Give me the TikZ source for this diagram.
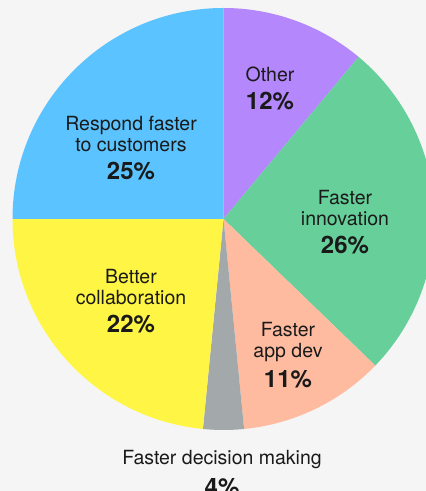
\documentclass[tikz,border=0pt]{standalone}
\usepackage{fontspec}
\setmainfont{TeX Gyre Heros}
\usepackage{tikz}
\usetikzlibrary{positioning}
\definecolor{bgc}{HTML}{F5F5F5}
\definecolor{otherc}{HTML}{B487FC}
\definecolor{innovc}{HTML}{66CF9A}
\definecolor{appc}{HTML}{FFBBA0}
\definecolor{decc}{HTML}{A3A8AB}
\definecolor{collabc}{HTML}{FFF545}
\definecolor{respc}{HTML}{5BC3FF}
\definecolor{txtc}{HTML}{1A1A1A}

\begin{document}
\begin{tikzpicture}[x=0.5pt,y=0.5pt,
  lbl/.style={align=center,anchor=base,text=txtc,inner sep=0pt,
    font=\fontsize{9.75}{10.5}\selectfont}]
\clip (0,0) rectangle (426,491);
\fill[bgc] (0,0) rectangle (426,491);
\coordinate (c) at (223.5,272);
% slices, clockwise from the top
\foreach \a/\b/\col in {90/50.2/otherc, 50.2/-44/innovc, -44/-84.4/appc,
    -84.4/-95.6/decc, -95.6/-180/collabc, 180/90/respc}
  \fill[\col] (c) -- ++(\a:211) arc[start angle=\a,end angle=\b,radius=211] -- cycle;
% labels (base = baseline of the percentage)
\node[lbl] (other) at (270,381) {Other\\[3.5pt]{\bfseries\fontsize{12}{14}\selectfont 12\%}};
\node[lbl] (innov) at (345,237) {Faster\\innovation\\[3.5pt]{\bfseries\fontsize{12}{14}\selectfont 26\%}};
\node[lbl] (appdev) at (288,103) {Faster\\app dev\\[3.5pt]{\bfseries\fontsize{12}{14}\selectfont 11\%}};
\node[lbl] (decide) at (222,-4) {Faster decision making\\[3.5pt]{\bfseries\fontsize{12}{14}\selectfont 4\%}};
\node[lbl] (collab) at (131,158) {Better\\collaboration\\[3.5pt]{\bfseries\fontsize{12}{14}\selectfont 22\%}};
\node[lbl] (respond) at (131,311) {Respond faster\\to customers\\[3.5pt]{\bfseries\fontsize{12}{14}\selectfont 25\%}};
\end{tikzpicture}
\end{document}
